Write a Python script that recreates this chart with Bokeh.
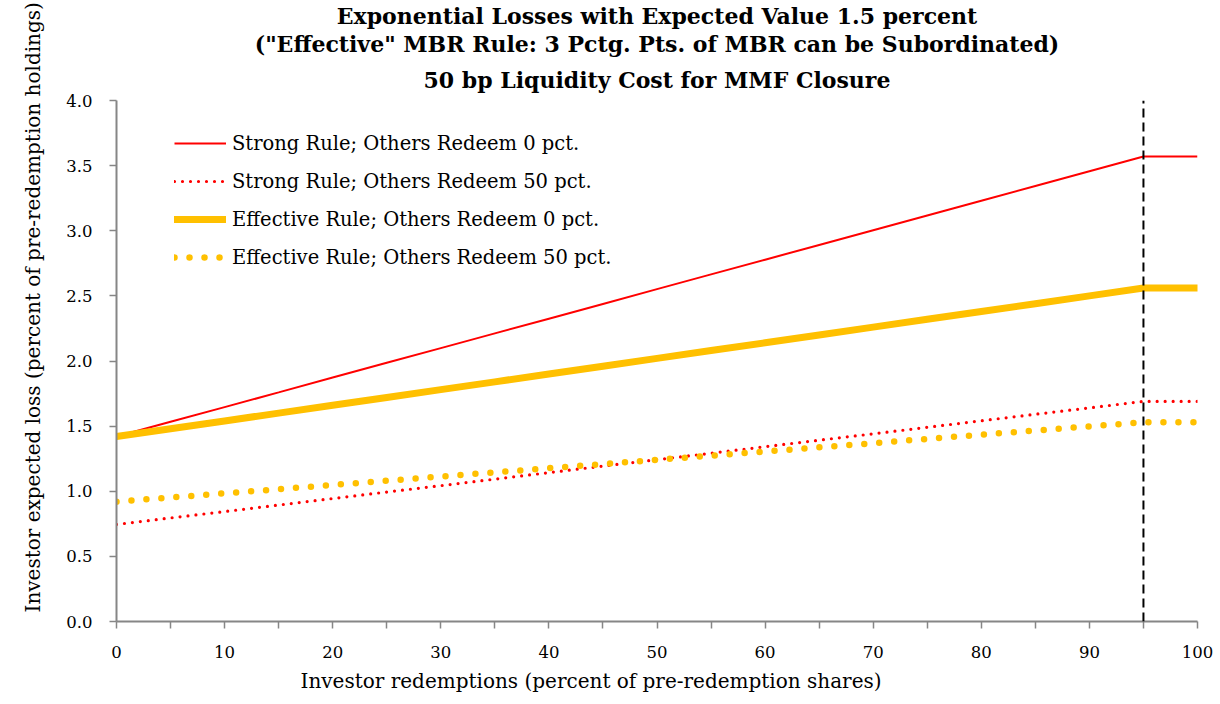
from bokeh.plotting import figure
from bokeh.models import (Range1d, FixedTicker, NumeralTickFormatter, Legend,
                          LegendItem, Arrow, Title)
from bokeh.embed import file_html
from bokeh.resources import INLINE

# ---------------- data ----------------
redemptions = [0, 5, 10, 15, 20, 25, 30, 35, 40, 45, 50, 55, 60, 65, 70, 75, 80, 85, 90, 95, 100]
strong_0 = [1.420, 1.533, 1.646, 1.759, 1.873, 1.986, 2.099, 2.212, 2.325, 2.438, 2.552, 2.665,
            2.778, 2.891, 3.004, 3.117, 3.231, 3.344, 3.457, 3.570, 3.570]
strong_50 = [0.745, 0.795, 0.844, 0.894, 0.944, 0.994, 1.043, 1.093, 1.143, 1.193, 1.242, 1.292,
             1.342, 1.392, 1.441, 1.491, 1.541, 1.591, 1.640, 1.690, 1.690]
effective_0 = [1.420, 1.480, 1.540, 1.600, 1.660, 1.720, 1.780, 1.840, 1.900, 1.960, 2.020, 2.080,
               2.140, 2.200, 2.260, 2.320, 2.380, 2.440, 2.500, 2.560, 2.560]
effective_50 = [0.920, 0.952, 0.984, 1.016, 1.048, 1.081, 1.113, 1.145, 1.177, 1.209, 1.241, 1.273,
                1.305, 1.337, 1.369, 1.402, 1.434, 1.466, 1.498, 1.530, 1.530]
closure_point = 95
series_names = ["Strong Rule; Others Redeem 0 pct.",
                "Strong Rule; Others Redeem 50 pct.",
                "Effective Rule; Others Redeem 0 pct.",
                "Effective Rule; Others Redeem 50 pct."]
title_lines = ["Exponential Losses with Expected Value 1.5 percent",
               "(\"Effective\" MBR Rule: 3 Pctg. Pts. of MBR can be Subordinated)",
               "50 bp Liquidity Cost for MMF Closure"]
x_label = "Investor redemptions (percent of pre-redemption shares)"
y_label = "Investor expected loss (percent of pre-redemption holdings)"
x_ticks = [0, 10, 20, 30, 40, 50, 60, 70, 80, 90, 100]
x_minor = [5, 15, 25, 35, 45, 55, 65, 75, 85, 95]
y_ticks = [0, 0.5, 1.0, 1.5, 2.0, 2.5, 3.0, 3.5, 4.0]

FONT = "DejaVu Serif"
RED = "#FF0000"
GOLD = "#FFC000"
AXIS = "#868686"

p = figure(frame_width=1081, frame_height=521, output_backend="svg", toolbar_location=None,
           x_range=Range1d(0, 100), y_range=Range1d(0, 4),
           min_border_left=116, min_border_right=23, min_border_top=100, min_border_bottom=83)
p.outline_line_color = None
p.grid.visible = False
p.background_fill_color = "white"
p.border_fill_color = "white"

# axes
for ax in (p.xaxis[0], p.yaxis[0]):
    ax.axis_line_color = AXIS
    ax.axis_line_width = 2
    ax.major_tick_line_color = AXIS
    ax.major_tick_line_width = 1.5
    ax.minor_tick_line_color = AXIS
    ax.minor_tick_line_width = 1.5
    ax.major_tick_in = 0
    ax.major_tick_out = 7
    ax.major_label_text_font = FONT
    ax.major_label_text_font_size = "16.5px"
    ax.major_label_text_color = "black"

p.xaxis.ticker = FixedTicker(ticks=x_ticks, minor_ticks=x_minor)
p.xaxis.minor_tick_in = 0
p.xaxis.minor_tick_out = 7
p.xaxis.major_label_standoff = 17
p.yaxis.ticker = FixedTicker(ticks=y_ticks)
p.yaxis.formatter = NumeralTickFormatter(format="0.0")
p.yaxis.minor_tick_line_color = None
p.yaxis.major_label_standoff = 17

# series
r1 = p.line(redemptions, strong_0, line_color=RED, line_width=2)
r2 = p.line(redemptions, strong_50, line_color=RED, line_width=3.2, line_dash="0 8",
            line_cap="round")
r3 = p.line(redemptions, effective_0, line_color=GOLD, line_width=7, line_cap="round")
r4 = p.line(redemptions, effective_50, line_color=GOLD, line_width=6.5, line_dash="0 15",
            line_cap="round")

# closure line
p.add_layout(Arrow(end=None, x_start=closure_point, x_end=closure_point, y_start=0, y_end=4.0,
                   line_color="black", line_width=2, line_dash="9 5"))

legend = Legend(items=[LegendItem(label=series_names[i], renderers=[r])
                       for i, r in enumerate([r1, r2, r3, r4])],
                location=(58, 345), padding=0, margin=0, spacing=0,
                glyph_width=52, glyph_height=38, label_height=38, label_standoff=6,
                border_line_color=None, background_fill_alpha=0,
                label_text_font=FONT, label_text_font_size="19.5px",
                label_text_color="black")
p.add_layout(legend)

# title lines (added nearest-first)
for line, so in zip(reversed(title_lines), [16, 0, 0]):
    p.add_layout(Title(text=line, align="center", standoff=so, text_font=FONT,
                       text_font_style="bold", text_font_size="22px", text_color="black"),
                 "above")

# axis labels as side titles for exact placement
p.add_layout(Title(text=x_label, align="left", offset=184, standoff=12, text_font=FONT,
                   text_font_style="normal", text_font_size="20px", text_color="black"),
             "below")
p.add_layout(Title(text=y_label, align="left", offset=9, standoff=37, text_font=FONT,
                   text_font_style="normal", text_font_size="20px", text_color="black"),
             "left")

open("out.html", "w").write(file_html(p, INLINE))
